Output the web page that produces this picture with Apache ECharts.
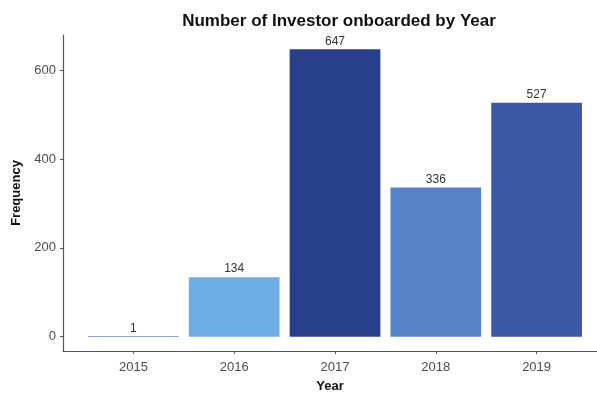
<!DOCTYPE html>
<html>
<head>
<meta charset="utf-8">
<script src="https://cdn.jsdelivr.net/npm/echarts@6/dist/echarts.min.js"></script>
<style>
  html, body { margin: 0; padding: 0; background: #fff; }
  #chart { width: 597px; height: 396px; }
</style>
</head>
<body>
<div id="chart"></div>
<script>
// Investors onboarded per year
const years = ['2015', '2016', '2017', '2018', '2019'];
const counts = [1, 134, 647, 336, 527];
const yTicks = [0, 200, 400, 600];
const barColors = ['#2a4a94', '#6eaee6', '#283f8c', '#5784c8', '#3a58a5'];

// ggplot-style 5% padding of the value range
const maxVal = Math.max(...counts);
const pad = maxVal * 0.05;
const yMin = -pad, yMax = maxVal + pad;

const font = 'Liberation Sans, Arial, sans-serif';
const axisColor = '#555';

const chart = echarts.init(document.getElementById('chart'), null, { renderer: 'canvas' });
chart.setOption({
  animation: false,
  backgroundColor: '#fff',
  textStyle: { fontFamily: font },
  title: {
    text: 'Number of Investor onboarded by Year',
    left: 334, top: 8, textAlign: 'center',
    textStyle: { fontFamily: font, fontSize: 17, fontWeight: 'bold', color: '#111' }
  },
  grid: [
    { left: 63, right: 0, top: 35, bottom: 45, containLabel: false, outerBoundsMode: 'none' },
    { left: 83, right: 10, top: 35, bottom: 45, containLabel: false, outerBoundsMode: 'none' }
  ],
  xAxis: [
    {
      gridIndex: 0, type: 'value', min: 0, max: 1,
      axisLine: { show: true, onZero: false, lineStyle: { color: axisColor, width: 1.2 } },
      axisTick: { show: false }, axisLabel: { show: false }, splitLine: { show: false },
      name: 'Year', nameLocation: 'middle', nameGap: 29,
      nameTextStyle: { fontFamily: font, fontSize: 13, fontWeight: 'bold', color: '#111' }
    },
    {
      gridIndex: 1, type: 'category', data: years,
      axisLine: { show: false, onZero: false },
      axisTick: { show: true, alignWithLabel: true, length: 3, lineStyle: { color: axisColor } },
      axisLabel: { fontFamily: font, fontSize: 13, color: '#4d4d4d', margin: 10 },
      splitLine: { show: false }
    }
  ],
  yAxis: [
    {
      gridIndex: 0, type: 'value', min: yMin, max: yMax,
      axisLine: { show: true, onZero: false, lineStyle: { color: axisColor, width: 1.2 } },
      axisTick: { show: true, length: 3, customValues: yTicks, lineStyle: { color: axisColor } },
      axisLabel: { customValues: yTicks, fontFamily: font, fontSize: 13, color: '#4d4d4d', margin: 7 },
      splitLine: { show: false },
      name: 'Frequency', nameLocation: 'middle', nameGap: 37, nameRotate: 90,
      nameTextStyle: { fontFamily: font, fontSize: 13, fontWeight: 'bold', color: '#111' }
    },
    {
      gridIndex: 1, type: 'value', min: yMin, max: yMax, show: false,
      splitLine: { show: false }
    }
  ],
  series: [{
    type: 'bar',
    xAxisIndex: 1, yAxisIndex: 1,
    barCategoryGap: '10%',
    data: counts.map((v, i) => ({ value: v, itemStyle: { color: barColors[i] } })),
    label: {
      show: true, position: 'top', distance: 2,
      fontFamily: font, fontSize: 12, color: '#333'
    }
  }]
});
</script>
</body>
</html>
